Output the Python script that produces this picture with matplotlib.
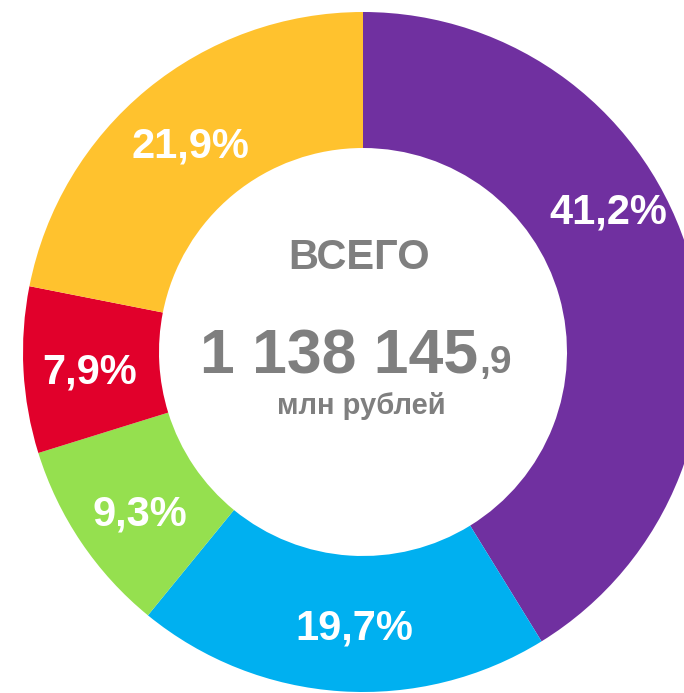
import matplotlib
matplotlib.use("Agg")
import matplotlib.pyplot as plt

W, H = 684, 693
shares = [41.2, 19.7, 9.3, 7.9, 21.9]
labels = ["41,2%", "19,7%", "9,3%", "7,9%", "21,9%"]
colors = ["#7030A0", "#00B0F0", "#95E04F", "#E1002B", "#FFC22E"]
# label centers in pixel coords (x, y from top)
label_pos = [(608, 212), (354, 628), (140, 515), (90, 373), (190, 146)]

total_main = "1 138 145"
total_dec = ",9"
title = "ВСЕГО"
unit = "млн рублей"

plt.rcParams['font.family'] = ['Liberation Sans', 'DejaVu Sans']

fig = plt.figure(figsize=(W / 100, H / 100), dpi=100)
ax = fig.add_axes([0, 0, 1, 1])

cx, cy, R = 363, H - 352, 340
ax.pie(shares, colors=colors, startangle=90, counterclock=False,
       center=(cx, cy), radius=R, frame=True,
       wedgeprops=dict(width=R * 0.4, linewidth=0))
ax.set_xlim(0, W)
ax.set_ylim(0, H)
ax.set_aspect('equal')
ax.axis('off')

for (x, y), t in zip(label_pos, labels):
    ax.text(x, H - y, t, color='white', fontsize=30, fontweight='bold',
            ha='center', va='center')

gray = '#7F7F7F'
ax.text(359, H - 258, title, color=gray, fontsize=30, fontweight='bold',
        ha='center', va='center')
ax.text(478, H - 373, total_main, color=gray, fontsize=45, fontweight='bold',
        ha='right', va='baseline')
ax.text(479, H - 373, total_dec, color=gray, fontsize=28, fontweight='bold',
        ha='left', va='baseline')
ax.text(361, H - 414, unit, color=gray, fontsize=21, fontweight='bold',
        ha='center', va='baseline')

fig.savefig("out.png", dpi=100)
